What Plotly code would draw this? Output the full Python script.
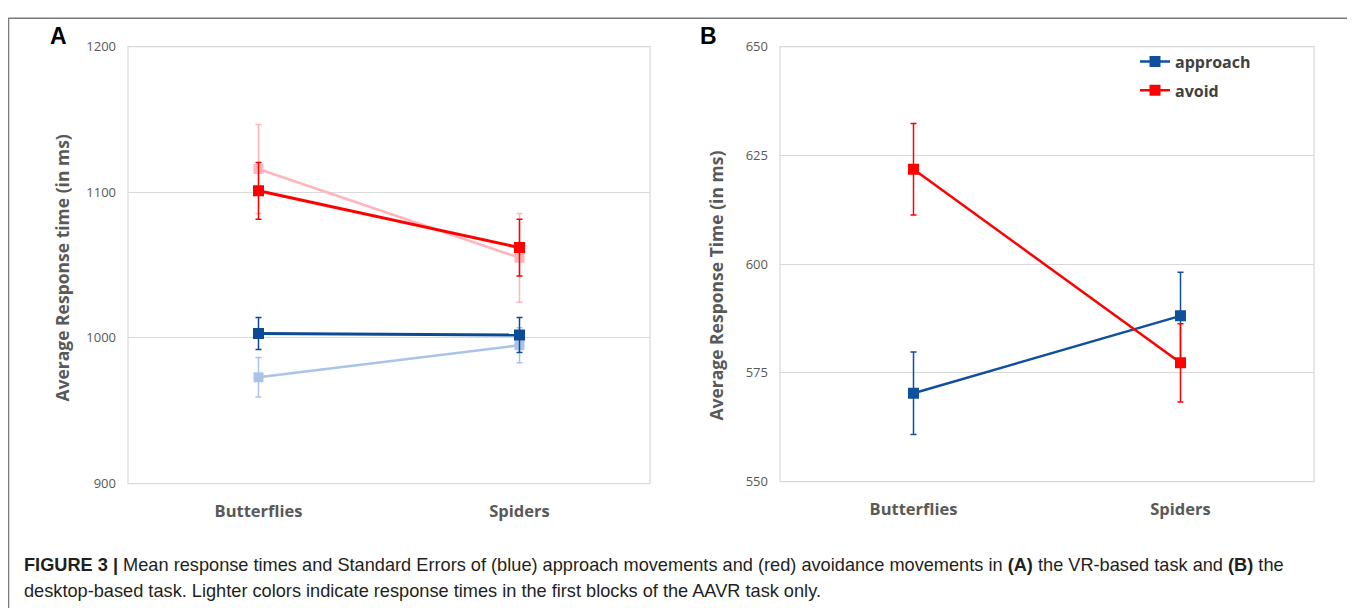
import plotly.graph_objects as go

# ---------------- data ----------------
categories = ["Butterflies", "Spiders"]

# Panel A (VR-based task)
a_avoid = [1101, 1062]
a_avoid_se = [19.5, 19.5]
a_avoid_first = [1116, 1055]
a_avoid_first_se = [30.5, 30.5]
a_approach = [1003, 1002]
a_approach_se = [11, 12]
a_approach_first = [973, 995]
a_approach_first_se = [13.5, 12]

# Panel B (desktop-based task)
b_approach = [570.3, 588.1]
b_approach_se = [9.5, 10]
b_avoid = [621.8, 577.3]
b_avoid_se = [10.5, 9]

a_yticks = [900, 1000, 1100, 1200]
b_yticks = [550, 575, 600, 625, 650]

caption_1 = ("<b>FIGURE 3 |</b> Mean response times and Standard Errors of (blue) approach movements and "
             "(red) avoidance movements in <b>(A)</b> the VR-based task and <b>(B)</b> the")
caption_2 = "desktop-based task. Lighter colors indicate response times in the first blocks of the AAVR task only."

# ---------------- styles ----------------
W, H = 1355, 608
RED = "#ff0000"
PINK = "#ffb5bb"
DBLUE = "#0d4a96"
LBLUE = "#a9c4e8"
GRID = "#d9d9d9"
TXT = "#595959"
FONT = "Open Sans"

# page placement compensation (measured from the rendered page)
X_OFF = 8.0
Y_OFF = 16.4
Y_SPAN = 590.0


def px(x):
    return (x - X_OFF) / W


def py(y):
    return 1 - (y - Y_OFF) / Y_SPAN


fig = go.Figure()


def add(xa, ya, y, se, color, width, msize, name, showlegend=False, group=None, rank=None):
    fig.add_trace(go.Scatter(
        x=categories, y=y, xaxis=xa, yaxis=ya, mode="lines+markers", name=name,
        line=dict(color=color, width=width),
        marker=dict(symbol="square", size=msize, color=color),
        error_y=dict(type="data", array=se, visible=True, color=color, thickness=1.5, width=3),
        showlegend=showlegend, legendgroup=group, legendrank=rank, hoverinfo="skip",
    ))


# Panel A: lighter first, then dark
add("x", "y", a_avoid_first, a_avoid_first_se, PINK, 2.5, 10, "avoid (first blocks)")
add("x", "y", a_approach_first, a_approach_first_se, LBLUE, 2.5, 10, "approach (first blocks)")
add("x", "y", a_avoid, a_avoid_se, RED, 3, 11, "avoid")
add("x", "y", a_approach, a_approach_se, DBLUE, 3, 11, "approach")

# Panel B
add("x2", "y2", b_approach, b_approach_se, "#0f4f9e", 2.5, 11, "approach", showlegend=True, group="g1", rank=1)
add("x2", "y2", b_avoid, b_avoid_se, RED, 2.5, 11, "avoid", showlegend=True, group="g2", rank=2)

xa_common = dict(type="category", range=[-0.5, 1.5], showgrid=False, zeroline=False,
                 showline=False, ticks="", ticklabelstandoff=16,
                 tickfont=dict(family=FONT, size=16.5, color=TXT, weight="bold"))
ya_common = dict(showgrid=True, gridcolor=GRID, gridwidth=1, zeroline=False,
                 showline=False, ticks="", ticklabelstandoff=11,
                 tickfont=dict(family=FONT, size=13, color=TXT))

fig.update_layout(
    width=W, height=H,
    margin=dict(l=0, r=0, t=0, b=0),
    paper_bgcolor="white", plot_bgcolor="white",
    xaxis=dict(domain=[px(128), px(650)], anchor="y", **xa_common),
    yaxis=dict(domain=[py(483), py(46)], anchor="x", range=[900, 1200], tickvals=a_yticks, **ya_common),
    xaxis2=dict(domain=[px(780), px(1314)], anchor="y2", **xa_common),
    yaxis2=dict(domain=[py(481), py(46)], anchor="x2", range=[550, 650], tickvals=b_yticks, **ya_common),
    legend=dict(x=px(1135), y=py(44), xanchor="left", yanchor="top",
                font=dict(family=FONT, size=16, color="#404040", weight="bold"),
                traceorder="grouped", tracegroupgap=5, bgcolor="rgba(0,0,0,0)",
                itemwidth=30),
    showlegend=True,
)

# plot-area boxes
for (x0, x1, y0, y1) in [(128, 650, 46, 483), (780, 1314, 46, 481)]:
    fig.add_shape(type="rect", xref="paper", yref="paper", x0=px(x0), x1=px(x1), y0=py(y1), y1=py(y0),
                  line=dict(color=GRID, width=1.2), fillcolor="rgba(0,0,0,0)", layer="below")

# outer frame
fig.add_shape(type="rect", xref="paper", yref="paper", x0=px(8.5), x1=px(1353), y0=py(640), y1=min(py(8.5), 0.998),
              line=dict(color="#7a7a7a", width=1.5), fillcolor="rgba(0,0,0,0)")

# panel letters
for letter, x in [("A", 58), ("B", 708)]:
    fig.add_annotation(text=f"<b>{letter}</b>", x=px(x), y=py(35), xref="paper", yref="paper",
                       showarrow=False, xanchor="center", yanchor="middle",
                       font=dict(family="Liberation Sans", size=23, color="black"))

# y-axis titles
fig.add_annotation(text="<b>Average Response time (in ms)</b>", x=px(62), y=py(268), xref="paper", yref="paper",
                   showarrow=False, textangle=-90, xanchor="center", yanchor="middle",
                   font=dict(family=FONT, size=17.5, color=TXT))
fig.add_annotation(text="<b>Average Response Time (in ms)</b>", x=px(716), y=py(285), xref="paper", yref="paper",
                   showarrow=False, textangle=-90, xanchor="center", yanchor="middle",
                   font=dict(family=FONT, size=17.5, color=TXT))

# caption
fig.add_annotation(text=caption_1, x=px(22), y=py(564), xref="paper", yref="paper", showarrow=False,
                   xanchor="left", yanchor="middle", align="left",
                   font=dict(family="Liberation Sans", size=18.2, color="#231f20"))
fig.add_annotation(text=caption_2, x=px(22), y=py(590), xref="paper", yref="paper", showarrow=False,
                   xanchor="left", yanchor="middle", align="left",
                   font=dict(family="Liberation Sans", size=18.2, color="#231f20"))

fig.write_html("out.html")
